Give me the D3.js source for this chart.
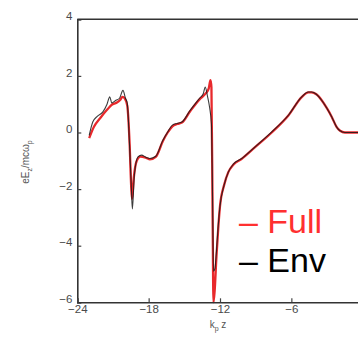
<!DOCTYPE html>
<html>
<head>
<meta charset="utf-8">
<script src="https://cdn.jsdelivr.net/npm/d3@7"></script>
<style>
  body { margin: 0; background: #fff; }
  svg { display: block; font-family: "Liberation Sans", Arial, sans-serif; }
</style>
</head>
<body>
<script>
// k_p z positions and field values
const envZ = [-23.0, -22.7, -22.3, -21.85, -21.5, -21.27, -21.1, -20.75, -20.45, -20.16, -19.95, -19.8, -19.6, -19.45, -19.37, -19.2, -18.9, -18.6, -18.2, -17.9, -17.4, -16.8, -16.4, -16.0, -15.6, -15.2, -14.5, -13.7, -13.4, -13.24, -13.05, -12.88, -12.72, -12.62, -12.55, -12.42, -12.3, -12.15, -12.0, -11.65, -11.3, -10.88, -10.17, -9.05, -7.65, -6.25, -5.13, -4.57, -4.3, -3.9, -3.45, -3.0, -2.6, -2.2, -1.9, -1.5, -1.0, 0];
const envE = [-0.1, 0.37, 0.58, 0.73, 1.0, 1.26, 1.04, 1.14, 1.21, 1.49, 1.21, 1.04, -0.5, -2.0, -2.7, -1.5, -0.86, -0.8, -0.88, -0.92, -0.84, -0.27, 0.02, 0.26, 0.32, 0.37, 0.79, 1.22, 1.38, 1.61, 1.28, 0.9, 0.3, -2.5, -4.9, -4.8, -4.2, -3.3, -2.6, -1.85, -1.4, -1.12, -0.92, -0.51, 0.02, 0.61, 1.26, 1.43, 1.43, 1.35, 1.14, 0.85, 0.55, 0.2, 0.06, 0.0, 0.0, 0.0];

const fullZ = [-23.0, -22.6, -22.0, -21.5, -21.1, -20.7, -20.4, -20.2, -20.0, -19.8, -19.6, -19.47, -19.4, -19.25, -19.0, -18.7, -18.2, -17.9, -17.4, -16.8, -16.4, -16.0, -15.6, -15.2, -14.5, -13.7, -13.2, -12.95, -12.8, -12.72, -12.62, -12.55, -12.45, -12.3, -12.15, -12.0, -11.65, -11.3, -10.88, -10.17, -9.05, -7.65, -6.25, -5.13, -4.57, -4.3, -3.9, -3.45, -3.0, -2.6, -2.2, -1.9, -1.5, -1.0, 0];
const fullE = [-0.2, 0.2, 0.55, 0.8, 0.98, 1.05, 1.15, 1.26, 1.2, 0.95, -0.4, -1.9, -2.35, -1.6, -1.0, -0.85, -0.9, -0.95, -0.86, -0.3, 0.0, 0.22, 0.3, 0.35, 0.76, 1.18, 1.38, 1.55, 1.85, 1.6, -3.0, -6.0, -5.6, -4.4, -3.4, -2.6, -1.85, -1.4, -1.14, -0.93, -0.52, 0.0, 0.6, 1.25, 1.42, 1.42, 1.35, 1.14, 0.85, 0.55, 0.2, 0.06, 0.0, 0.0, 0.0];

const xTicks = [-24, -18, -12, -6];
const yTicks = [-6, -4, -2, 0, 2, 4];
const legendLabels = ["Full", "Env"];

const width = 358, height = 342;

const svg = d3.select("body").append("svg")
  .attr("width", width)
  .attr("height", height);

const x = d3.scaleLinear().domain([-24, 0]).range([77.3, 362.7]);
const y = d3.scaleLinear().domain([-6, 4]).range([302.3, 19.3]);

const line = d3.line()
  .x(d => x(d[0]))
  .y(d => y(d[1]))
  .curve(d3.curveMonotoneX);

// red (full) under, thin black (envelope) on top
svg.append("path")
  .attr("d", line(d3.zip(fullZ, fullE)))
  .attr("fill", "none")
  .attr("stroke", "#e8292c")
  .attr("stroke-width", 2.3)
  .attr("stroke-linejoin", "round");

svg.append("path")
  .attr("d", line(d3.zip(envZ, envE)))
  .attr("fill", "none")
  .attr("stroke", "#1a1a1a")
  .attr("stroke-width", 1.1)
  .attr("stroke-opacity", 0.85)
  .attr("stroke-linejoin", "round");

// axes
const yAxis = svg.append("g")
  .attr("transform", `translate(${x(-24)},0)`)
  .call(d3.axisLeft(y).tickValues(yTicks).tickSize(-4).tickPadding(5).tickFormat(d3.format("d")));
yAxis.selectAll(".tick text").attr("dy", "0.02em");

const xAxis = svg.append("g")
  .attr("transform", `translate(0,${y(-6)})`)
  .call(d3.axisBottom(x).tickValues(xTicks).tickSize(-4).tickPadding(3).tickFormat(d3.format("d")));

[yAxis, xAxis].forEach(g => {
  g.select(".domain").attr("stroke", "#333").attr("stroke-width", 1.6);
  g.selectAll(".tick line").attr("stroke", "#444").attr("stroke-width", 1.2);
  g.selectAll(".tick text")
    .attr("fill", "#4a4a4a")
    .style("font-size", "11.5px")
    .style("font-family", "'Liberation Sans', Arial, sans-serif");
});

// top frame line
svg.append("line")
  .attr("x1", x(-24)).attr("x2", width)
  .attr("y1", y(4)).attr("y2", y(4))
  .attr("stroke", "#333")
  .attr("stroke-width", 1.6);

// y label
const yl = svg.append("text")
  .attr("transform", "translate(29,162) rotate(-90)")
  .attr("text-anchor", "middle")
  .attr("fill", "#555")
  .style("font-size", "10px");
yl.append("tspan").text("eE");
yl.append("tspan").attr("dy", 3).style("font-size", "7px").text("z");
yl.append("tspan").attr("dy", -3).text("/mc\u03c9");
yl.append("tspan").attr("dy", 3).style("font-size", "7px").text("p");

// x label
const xl = svg.append("text")
  .attr("x", 218)
  .attr("y", 328)
  .attr("text-anchor", "middle")
  .attr("fill", "#555")
  .style("font-size", "10px");
xl.append("tspan").text("k");
xl.append("tspan").attr("dy", 3).style("font-size", "7px").text("p");
xl.append("tspan").attr("dy", -3).text(" z");

// legend
const legendColors = ["#ff3030", "#000"];
svg.selectAll(".legend")
  .data(legendLabels)
  .enter().append("text")
  .attr("class", "legend")
  .attr("x", 239)
  .attr("y", (d, i) => 233 + i * 39)
  .attr("fill", (d, i) => legendColors[i])
  .style("font-size", "34px")
  .text(d => "\u2013 " + d);
</script>
</body>
</html>
